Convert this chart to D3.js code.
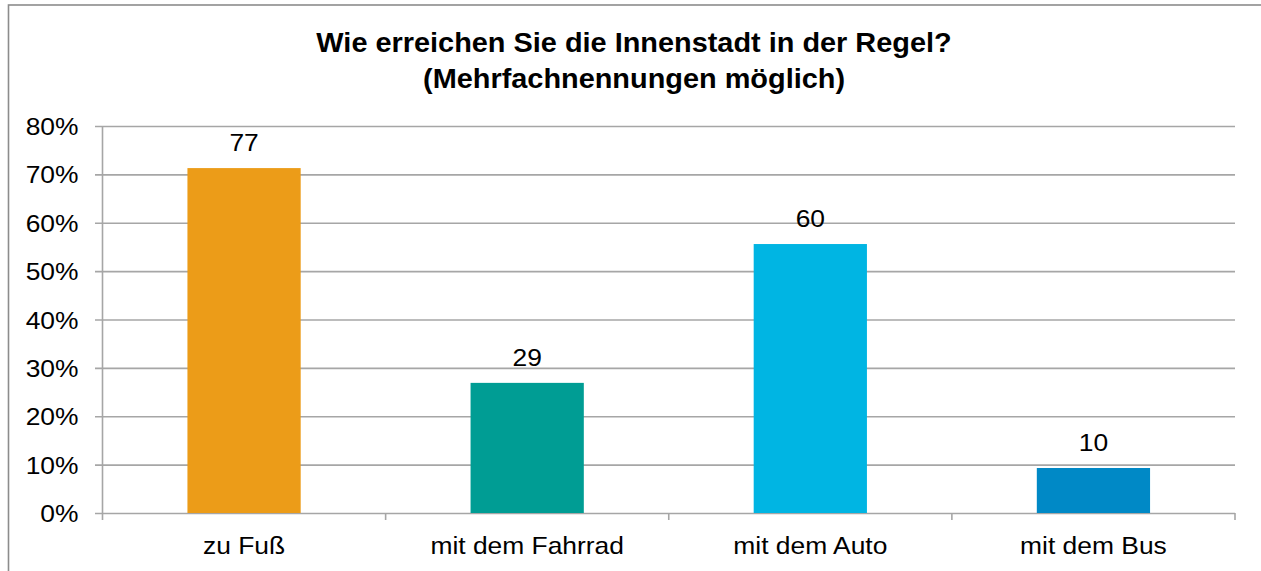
<!DOCTYPE html>
<html>
<head>
<meta charset="utf-8">
<script src="https://cdn.jsdelivr.net/npm/d3@7"></script>
<style>
  body { margin: 0; background: #fff; }
  svg { display: block; font-family: 'Liberation Sans', Arial, sans-serif; }
</style>
</head>
<body>
<div id="chart"></div>
<script>
const width = 1261;
const height = 571;

// values
const categories = ['zu Fuß', 'mit dem Fahrrad', 'mit dem Auto', 'mit dem Bus'];
const shares = [71.3, 26.9, 55.6, 9.3];   // bar height, percent
const counts = [77, 29, 60, 10];          // printed label above bar
const colors = ['#EC9C18', '#009D94', '#00B5E3', '#0089C6'];
const yTicks = [0, 10, 20, 30, 40, 50, 60, 70, 80];
const titleLines = ['Wie erreichen Sie die Innenstadt in der Regel?', '(Mehrfachnennungen möglich)'];

const sx = 1.1; // the source image is a bit wider than tall

const margin = {top: 126, right: 26, bottom: 58, left: 102.5};
const plotW = width - margin.left - margin.right;
const plotH = height - margin.top - margin.bottom;

const x = d3.scaleBand()
  .domain(categories)
  .range([0, plotW])
  .paddingInner(0.6)
  .paddingOuter(0.3);

const y = d3.scaleLinear()
  .domain([0, 80])
  .range([plotH, 0]);

const svg = d3.select('#chart').append('svg')
  .attr('width', width)
  .attr('height', height);

// outer frame
svg.append('rect')
  .attr('x', 8.5)
  .attr('y', 5)
  .attr('width', width + 20)
  .attr('height', height + 20)
  .attr('fill', 'none')
  .attr('stroke', '#8c8c8c')
  .attr('stroke-width', 1.6);

// title
svg.append('g')
  .selectAll('text')
  .data(titleLines)
  .join('text')
  .attr('transform', (d, i)=>`translate(634,${51.5 + i * 36.5}) scale(1.07,1)`)
  .attr('text-anchor', 'middle')
  .attr('font-size', 27)
  .attr('font-weight', 'bold')
  .attr('fill', '#000')
  .text((d)=>d);

const g = svg.append('g')
  .attr('transform', `translate(${margin.left},${margin.top})`);

// gridlines + y labels
const yAxis = g.append('g')
  .call(d3.axisLeft(y).tickValues(yTicks).tickSize(-plotW).tickSizeOuter(0).tickFormat((d)=>d + '%'));
yAxis.select('.domain').remove();
yAxis.selectAll('line')
  .attr('x1', -7.5)
  .attr('stroke', '#a6a6a6')
  .attr('stroke-width', 1.6);
yAxis.selectAll('text')
  .attr('x', null)
  .attr('dy', null)
  .attr('transform', `translate(-24,8.5) scale(${sx},1)`)
  .attr('font-size', 24)
  .attr('font-family', 'Liberation Sans, Arial, sans-serif')
  .attr('fill', '#000');

// y axis line
g.append('line')
  .attr('x1', 0).attr('x2', 0)
  .attr('y1', 0).attr('y2', plotH + 7)
  .attr('stroke', '#a6a6a6')
  .attr('stroke-width', 1.6);

// x axis ticks at category boundaries
const bounds = categories.map((c)=>x(c) - x.step() * x.paddingOuter()).concat([plotW]);
g.append('g')
  .selectAll('line')
  .data(bounds.slice(1))
  .join('line')
  .attr('x1', (d)=>d).attr('x2', (d)=>d)
  .attr('y1', plotH).attr('y2', plotH + 7)
  .attr('stroke', '#a6a6a6')
  .attr('stroke-width', 1.6);

// bars
g.append('g')
  .selectAll('rect')
  .data(categories)
  .join('rect')
  .attr('x', (d)=>x(d))
  .attr('y', (d, i)=>y(shares[i]))
  .attr('width', x.bandwidth())
  .attr('height', (d, i)=>plotH - y(shares[i]))
  .attr('fill', (d, i)=>colors[i]);

// value labels
g.append('g')
  .selectAll('text')
  .data(categories)
  .join('text')
  .attr('transform', (d, i)=>`translate(${x(d) + x.bandwidth() / 2},${y(shares[i]) - 17}) scale(${sx},1)`)
  .attr('text-anchor', 'middle')
  .attr('font-size', 24)
  .attr('fill', '#000')
  .text((d, i)=>counts[i]);

// category labels
g.append('g')
  .selectAll('text')
  .data(categories)
  .join('text')
  .attr('transform', (d)=>`translate(${x(d) + x.bandwidth() / 2},${plotH + 41}) scale(${sx},1)`)
  .attr('text-anchor', 'middle')
  .attr('font-size', 24)
  .attr('fill', '#000')
  .text((d)=>d);
</script>
</body>
</html>
